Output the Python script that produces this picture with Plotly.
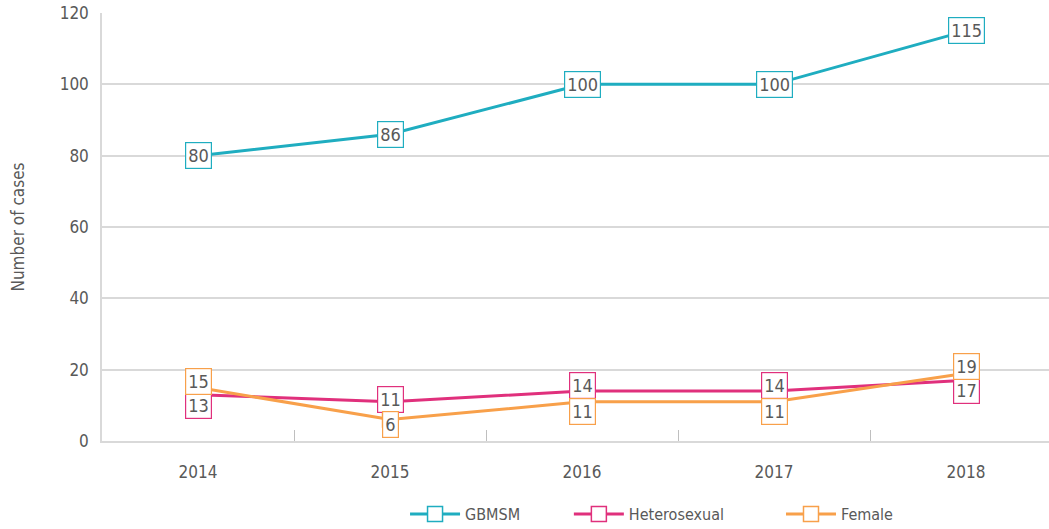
import plotly.graph_objects as go

years = ["2014", "2015", "2016", "2017", "2018"]
gbmsm = [80, 86, 100, 100, 115]
hetero = [13, 11, 14, 14, 17]
female = [15, 6, 11, 11, 19]

series = [
    ("GBMSM", gbmsm, "#1fadc0", [0, 0, 0, 0, 0], "legend", 0.320),
    ("Heterosexual", hetero, "#e0307c", [-11, 2, 6, 6, -10], "legend2", 0.493),
    ("Female", female, "#f8a04a", [6, -5, -10, -10, 7], "legend3", 0.717),
]

FONT = "DejaVu Sans Condensed, Liberation Sans Narrow, sans-serif"
TXT = "#595959"
GRID = "#d9d9d9"

fig = go.Figure()
annotations = []
legends = {}
for name, vals, col, shifts, leg, lx in series:
    fig.add_trace(go.Scatter(
        x=years, y=vals, name=name, mode="lines+markers", legend=leg,
        line=dict(color=col, width=3),
        marker=dict(symbol="square", size=15, color="white", line=dict(color=col, width=1.5)),
    ))
    legends[leg] = dict(orientation="h", x=lx, xanchor="left", y=-0.1706, yanchor="middle",
                        font=dict(family=FONT, size=16, color=TXT), itemwidth=50,
                        bgcolor="rgba(0,0,0,0)")
    for i, (v, s) in enumerate(zip(vals, shifts)):
        annotations.append(dict(
            x=i, y=v, xref="x", yref="y", text=str(v), showarrow=False, yshift=s,
            font=dict(family=FONT, size=18, color=TXT),
            bgcolor="white", bordercolor=col, borderwidth=1.2, borderpad=2,
        ))

fig.update_layout(
    width=1049, height=529,
    margin=dict(l=102, r=0, t=13, b=88, autoexpand=False),
    plot_bgcolor="white", paper_bgcolor="white",
    font=dict(family=FONT, size=17, color=TXT),
    annotations=annotations,
    showlegend=True,
    **legends,
    xaxis=dict(type="category", range=[-0.5, 4.432], showgrid=False, automargin=False,
               showline=True, linecolor=GRID, linewidth=1.5,
               ticks="inside", tickson="boundaries", ticklen=11, tickcolor="#bfbfbf",
               tickfont=dict(family=FONT, size=17, color=TXT), ticklabelstandoff=15),
    yaxis=dict(range=[0, 120], dtick=20, showgrid=True, gridcolor=GRID, gridwidth=1.5,
               showline=True, linecolor=GRID, linewidth=1.5, zeroline=False, automargin=False,
               tickfont=dict(family=FONT, size=17, color=TXT), ticklabelstandoff=8,
               title=dict(text="Number of cases", font=dict(family=FONT, size=17, color=TXT),
                          standoff=31)),
)

fig.write_html("out.html", config={"displayModeBar": False},
               post_script="document.body.style.margin='0';")
